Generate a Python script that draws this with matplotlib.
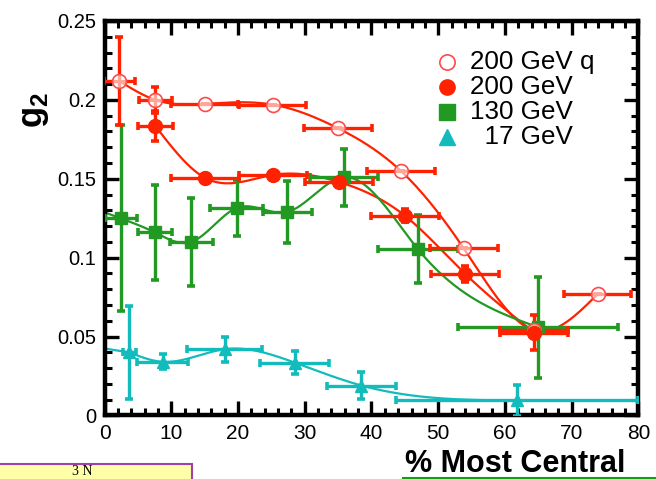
import numpy as np
import matplotlib
matplotlib.use('Agg')
import matplotlib.pyplot as plt
from matplotlib.lines import Line2D
from matplotlib.patches import Rectangle
from matplotlib.ticker import MultipleLocator

plt.rcParams['font.family'] = ['Liberation Sans', 'DejaVu Sans']
plt.rcParams['mathtext.fontset'] = 'custom'
plt.rcParams['mathtext.rm'] = 'Liberation Sans'
plt.rcParams['mathtext.bf'] = 'Liberation Sans:bold'

# 200 GeV q (open circles)
xq = [2.2, 7.6, 15.0, 25.2, 35.0, 44.4, 53.8, 64.3, 73.9]
yq = [0.212, 0.200, 0.1975, 0.197, 0.182, 0.155, 0.106, 0.054, 0.077]
xq_err = [2.3, 2.5, 5.0, 5.0, 5.1, 5.1, 5.1, 5.1, 5.0]
yq_err = [0.028, 0.008, 0.0, 0.0, 0.0, 0.0, 0.0, 0.0, 0.0]

# 200 GeV (filled circles)
x200 = [7.6, 15.1, 25.3, 35.1, 45.0, 54.0, 64.4]
y200 = [0.1835, 0.1505, 0.1525, 0.148, 0.1266, 0.0899, 0.0525]
x200_err = [2.6, 5.1, 5.1, 5.1, 5.1, 5.1, 5.1]
y200_err = [0.0095, 0.002, 0.002, 0.002, 0.004, 0.005, 0.011]

# 130 GeV (squares)
x130 = [2.4, 7.55, 13.0, 19.8, 27.4, 35.9, 46.9, 64.9]
y130 = [0.125, 0.116, 0.110, 0.1315, 0.129, 0.151, 0.1057, 0.056]
x130_err = [2.4, 2.55, 3.2, 4.0, 3.7, 5.1, 6.0, 12.0]
y130_err = [0.059, 0.030, 0.028, 0.018, 0.0195, 0.018, 0.0215, 0.032]

# 17 GeV (triangles)
x17 = [3.7, 8.7, 18.0, 28.5, 38.5, 61.8]
y17 = [0.040, 0.034, 0.042, 0.0335, 0.019, 0.0095]
x17_err = [1.0, 3.8, 5.6, 5.2, 5.1, 18.2]
y17_err = [0.0295, 0.0048, 0.008, 0.0075, 0.0085, 0.010]

red = '#ff2200'
red_open = '#ff4a4a'
green = '#229922'
cyan = '#12bcbc'


def spline(xs, ys, xnew, lead=1.0):
    # natural cubic spline through the points, straight line before the first one
    xs = np.asarray(xs, float)
    ys = np.asarray(ys, float)
    n = len(xs)
    h = np.diff(xs)
    A = np.zeros((n, n))
    b = np.zeros(n)
    A[0, 0] = A[-1, -1] = 1.0
    for i in range(1, n - 1):
        A[i, i - 1] = h[i - 1]
        A[i, i] = 2 * (h[i - 1] + h[i])
        A[i, i + 1] = h[i]
        b[i] = 3 * ((ys[i + 1] - ys[i]) / h[i] - (ys[i] - ys[i - 1]) / h[i - 1])
    c = np.linalg.solve(A, b)
    bc = (ys[1:] - ys[:-1]) / h - h * (2 * c[:-1] + c[1:]) / 3
    d = (c[1:] - c[:-1]) / (3 * h)
    idx = np.clip(np.searchsorted(xs, xnew) - 1, 0, n - 2)
    dx = xnew - xs[idx]
    out = ys[idx] + bc[idx] * dx + c[idx] * dx ** 2 + d[idx] * dx ** 3
    before = xnew < xs[0]
    out[before] = ys[0] + lead * bc[0] * (xnew[before] - xs[0])
    return out


fig = plt.figure(figsize=(6.56, 4.79), dpi=100)
ax = fig.add_axes([0.1593, 0.1326, 0.814, 0.8236])

eb = dict(fmt='none', elinewidth=2.4, capsize=2.6, capthick=2.6)

# fitted curves
t = np.linspace(xq[0], xq[-1], 300)
ax.plot(t, spline(xq, yq, t), color=red, lw=1.6, zorder=2)
t = np.linspace(x200[0], x200[-1], 300)
ax.plot(t, spline(x200, y200, t), color=red, lw=1.6, zorder=2)
t = np.linspace(0, x130[-1], 300)
ax.plot(t, spline(x130, y130, t), color=green, lw=1.6, zorder=2)
t = np.linspace(0, x17[-1], 300)
ax.plot(t, spline(x17, y17, t, lead=0.4), color=cyan, lw=1.6, zorder=2)

ax.errorbar(x17, y17, xerr=x17_err, yerr=y17_err, ecolor=cyan, zorder=3, **eb)
ax.errorbar(x130, y130, xerr=x130_err, yerr=y130_err, ecolor=green, zorder=3, **eb)
ax.errorbar(xq, yq, xerr=xq_err, yerr=yq_err, ecolor=red, zorder=3, **eb)
ax.errorbar(x200, y200, xerr=x200_err, yerr=y200_err, ecolor=red, zorder=3, **eb)

ax.plot(x17, y17, '^', color=cyan, ms=9, zorder=4)
ax.plot(x130, y130, 's', color=green, ms=9, zorder=4)
ax.plot(xq, yq, 'o', mfc=(1, 1, 1, 0.6), mec=red_open, mew=1.2, ms=10, zorder=4)
ax.plot(x200, y200, 'o', color=red, ms=10, zorder=5)

ax.set_xlim(0, 80)
ax.set_ylim(0, 0.25)
ax.xaxis.set_major_locator(MultipleLocator(10))
ax.xaxis.set_minor_locator(MultipleLocator(2))
ax.yaxis.set_major_locator(MultipleLocator(0.05))
ax.yaxis.set_minor_locator(MultipleLocator(0.01))
ax.set_yticks([0, 0.05, 0.1, 0.15, 0.2, 0.25])
ax.set_yticklabels(['0', '0.05', '0.1', '0.15', '0.2', '0.25'])
ax.tick_params(which='both', direction='in', top=True, right=True, color='black')
ax.tick_params(which='major', length=10, width=2.4, pad=6)
ax.tick_params(which='minor', length=5, width=2.2)
ax.tick_params(axis='x', labelsize=15)
ax.tick_params(axis='y', labelsize=14.5)
for s in ax.spines.values():
    s.set_linewidth(3.2)

ax.set_xlabel('% Most Central', fontsize=22, fontweight='bold', ha='right')
ax.xaxis.set_label_coords(0.975, -0.084)
ax.set_ylabel(r'$\mathbf{g}_{\mathbf{2}}$', fontsize=25)
ax.yaxis.set_label_coords(-0.10, 0.775)

# legend
leg = [
    (dict(marker='o', mfc='white', mec=red_open, mew=1.2), '200 GeV q'),
    (dict(marker='o', color=red), '200 GeV'),
    (dict(marker='s', color=green), '130 GeV'),
    (dict(marker='^', color=cyan), '  17 GeV'),
]
ly = [0.896, 0.833, 0.770, 0.705]
for (st, lab), yy in zip(leg, ly):
    ax.plot([0.641], [yy], ms=11, ls='none', transform=ax.transAxes, clip_on=False, zorder=6, **st)
    ax.text(0.684, yy, lab, transform=ax.transAxes, fontsize=18.7, va='center', ha='left')

# bits of the slide below the plot
fig.patches.append(Rectangle((-0.01, -0.05), 0.302, 0.081, transform=fig.transFigure,
                             facecolor='#ffffa8', edgecolor='#a040a8', lw=1.5))
fig.text(0.11, 0.015, '3 N', family='Liberation Serif', fontsize=10, va='center', ha='left')
fig.lines.append(Line2D([0.614, 1.0], [0.003, 0.003], transform=fig.transFigure,
                        color='#10a010', lw=1.5))

fig.savefig('out.png', dpi=100)
